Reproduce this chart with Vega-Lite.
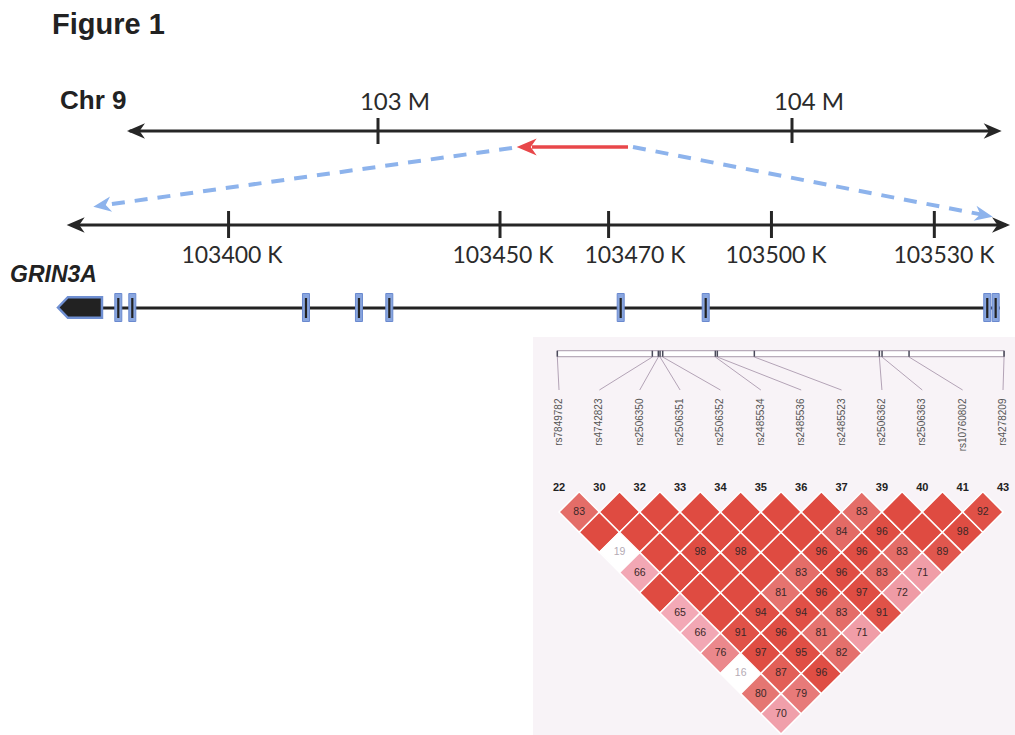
{
  "$schema": "https://vega.github.io/schema/vega-lite/v6.json",
  "width": 1015,
  "height": 735,
  "padding": 0,
  "autosize": "none",
  "background": "#ffffff",
  "config": {"view": {"stroke": null}},
  "datasets": {
    "snps": [
      {"i": 0, "snp": "rs7849782", "num": 22, "bar_i": -0.042},
      {"i": 1, "snp": "rs4742823", "num": 30, "bar_i": 2.312},
      {"i": 2, "snp": "rs2506350", "num": 32, "bar_i": 2.46},
      {"i": 3, "snp": "rs2506351", "num": 33, "bar_i": 2.503},
      {"i": 4, "snp": "rs2506352", "num": 34, "bar_i": 2.569},
      {"i": 5, "snp": "rs2485534", "num": 35, "bar_i": 3.873},
      {"i": 6, "snp": "rs2485536", "num": 36, "bar_i": 3.922},
      {"i": 7, "snp": "rs2485523", "num": 37, "bar_i": 4.839},
      {"i": 8, "snp": "rs2506362", "num": 39, "bar_i": 7.936},
      {"i": 9, "snp": "rs2506363", "num": 40, "bar_i": 8.003},
      {"i": 10, "snp": "rs10760802", "num": 41, "bar_i": 8.672},
      {"i": 11, "snp": "rs4278209", "num": 43, "bar_i": 11.026}
    ],
    "ld": [
      {"i": 0, "j": 1, "dp": 83}, {"i": 0, "j": 2, "dp": 100}, {"i": 0, "j": 3, "dp": 19}, {"i": 0, "j": 4, "dp": 66},
      {"i": 0, "j": 5, "dp": 100}, {"i": 0, "j": 6, "dp": 65}, {"i": 0, "j": 7, "dp": 66}, {"i": 0, "j": 8, "dp": 76},
      {"i": 0, "j": 9, "dp": 16}, {"i": 0, "j": 10, "dp": 80}, {"i": 0, "j": 11, "dp": 70},
      {"i": 1, "j": 2, "dp": 100}, {"i": 1, "j": 3, "dp": 100}, {"i": 1, "j": 4, "dp": 100}, {"i": 1, "j": 5, "dp": 100},
      {"i": 1, "j": 6, "dp": 100}, {"i": 1, "j": 7, "dp": 100}, {"i": 1, "j": 8, "dp": 91}, {"i": 1, "j": 9, "dp": 97},
      {"i": 1, "j": 10, "dp": 87}, {"i": 1, "j": 11, "dp": 79},
      {"i": 2, "j": 3, "dp": 100}, {"i": 2, "j": 4, "dp": 100}, {"i": 2, "j": 5, "dp": 98}, {"i": 2, "j": 6, "dp": 100},
      {"i": 2, "j": 7, "dp": 100}, {"i": 2, "j": 8, "dp": 94}, {"i": 2, "j": 9, "dp": 96}, {"i": 2, "j": 10, "dp": 95},
      {"i": 2, "j": 11, "dp": 96},
      {"i": 3, "j": 4, "dp": 100}, {"i": 3, "j": 5, "dp": 100}, {"i": 3, "j": 6, "dp": 98}, {"i": 3, "j": 7, "dp": 100},
      {"i": 3, "j": 8, "dp": 81}, {"i": 3, "j": 9, "dp": 94}, {"i": 3, "j": 10, "dp": 81}, {"i": 3, "j": 11, "dp": 82},
      {"i": 4, "j": 5, "dp": 100}, {"i": 4, "j": 6, "dp": 100}, {"i": 4, "j": 7, "dp": 100}, {"i": 4, "j": 8, "dp": 83},
      {"i": 4, "j": 9, "dp": 96}, {"i": 4, "j": 10, "dp": 83}, {"i": 4, "j": 11, "dp": 71},
      {"i": 5, "j": 6, "dp": 100}, {"i": 5, "j": 7, "dp": 100}, {"i": 5, "j": 8, "dp": 96}, {"i": 5, "j": 9, "dp": 96},
      {"i": 5, "j": 10, "dp": 97}, {"i": 5, "j": 11, "dp": 91},
      {"i": 6, "j": 7, "dp": 100}, {"i": 6, "j": 8, "dp": 84}, {"i": 6, "j": 9, "dp": 96}, {"i": 6, "j": 10, "dp": 83},
      {"i": 6, "j": 11, "dp": 72},
      {"i": 7, "j": 8, "dp": 83}, {"i": 7, "j": 9, "dp": 96}, {"i": 7, "j": 10, "dp": 83}, {"i": 7, "j": 11, "dp": 71},
      {"i": 8, "j": 9, "dp": 100}, {"i": 8, "j": 10, "dp": 100}, {"i": 8, "j": 11, "dp": 89},
      {"i": 9, "j": 10, "dp": 100}, {"i": 9, "j": 11, "dp": 98},
      {"i": 10, "j": 11, "dp": 92}
    ]
  },
  "resolve": {"scale": {"x": "independent", "y": "independent"}},
  "layer": [
    {
      "layer": [
        {
          "data": {"values": [
            {"mb": 103.3237, "y": 148, "mb2": 102.3411, "y2": 205.0},
            {"mb": 103.6159, "y": 147, "mb2": 104.4563, "y2": 214.4}
          ]},
          "mark": {"type": "rule", "color": "#8db3ec", "strokeWidth": 4, "strokeDash": [13, 10], "strokeCap": "butt"},
          "encoding": {
            "x": {"field": "mb", "type": "quantitative", "scale": {"domain": [102.08696, 104.53865], "nice": false, "zero": false}, "axis": null},
            "y": {"field": "y", "type": "quantitative", "scale": {"domain": [0, 735], "reverse": true, "nice": false, "zero": false}, "axis": null},
            "x2": {"field": "mb2"}, "y2": {"field": "y2"}
          }
        },
        {
          "data": {"values": [{"mb": 102.3123, "y": 206.7}]},
          "mark": {"type": "point", "shape": "M0,0 L-2,-0.85 L-1.4,0 L-2,0.85 Z", "size": 324, "angle": 172, "filled": true, "opacity": 1, "color": "#8db3ec"},
          "encoding": {
            "x": {"field": "mb", "type": "quantitative", "scale": {"domain": [102.08696, 104.53865], "nice": false, "zero": false}, "axis": null},
            "y": {"field": "y", "type": "quantitative", "scale": {"domain": [0, 735], "reverse": true, "nice": false, "zero": false}, "axis": null}
          }
        },
        {
          "data": {"values": [{"mb": 104.4848, "y": 216.7}]},
          "mark": {"type": "point", "shape": "M0,0 L-2,-0.85 L-1.4,0 L-2,0.85 Z", "size": 324, "angle": 11, "filled": true, "opacity": 1, "color": "#8db3ec"},
          "encoding": {
            "x": {"field": "mb", "type": "quantitative", "scale": {"domain": [102.08696, 104.53865], "nice": false, "zero": false}, "axis": null},
            "y": {"field": "y", "type": "quantitative", "scale": {"domain": [0, 735], "reverse": true, "nice": false, "zero": false}, "axis": null}
          }
        },
        {
          "data": {"values": [
            {"mb": 102.40, "mb2": 104.495, "y": 131, "y2": 131},
            {"mb": 103, "mb2": 103, "y": 118, "y2": 144},
            {"mb": 104, "mb2": 104, "y": 118, "y2": 143}
          ]},
          "mark": {"type": "rule", "color": "#262626", "strokeWidth": 3},
          "encoding": {
            "x": {"field": "mb", "type": "quantitative", "scale": {"domain": [102.08696, 104.53865], "nice": false, "zero": false}, "axis": null},
            "y": {"field": "y", "type": "quantitative", "scale": {"domain": [0, 735], "reverse": true, "nice": false, "zero": false}, "axis": null},
            "x2": {"field": "mb2"}, "y2": {"field": "y2"}
          }
        },
        {
          "data": {"values": [{"mb": 102.3937, "y": 131}]},
          "mark": {"type": "point", "shape": "M0,0 L-2,-0.85 L-1.4,0 L-2,0.85 Z", "size": 324, "angle": 180, "filled": true, "opacity": 1, "color": "#262626"},
          "encoding": {
            "x": {"field": "mb", "type": "quantitative", "scale": {"domain": [102.08696, 104.53865], "nice": false, "zero": false}, "axis": null},
            "y": {"field": "y", "type": "quantitative", "scale": {"domain": [0, 735], "reverse": true, "nice": false, "zero": false}, "axis": null}
          }
        },
        {
          "data": {"values": [{"mb": 104.5065, "y": 131}]},
          "mark": {"type": "point", "shape": "M0,0 L-2,-0.85 L-1.4,0 L-2,0.85 Z", "size": 324, "angle": 0, "filled": true, "opacity": 1, "color": "#262626"},
          "encoding": {
            "x": {"field": "mb", "type": "quantitative", "scale": {"domain": [102.08696, 104.53865], "nice": false, "zero": false}, "axis": null},
            "y": {"field": "y", "type": "quantitative", "scale": {"domain": [0, 735], "reverse": true, "nice": false, "zero": false}, "axis": null}
          }
        },
        {
          "data": {"values": [{"mb": 103.6039, "mb2": 103.372, "y": 147}]},
          "mark": {"type": "rule", "color": "#e8474a", "strokeWidth": 3.5},
          "encoding": {
            "x": {"field": "mb", "type": "quantitative", "scale": {"domain": [102.08696, 104.53865], "nice": false, "zero": false}, "axis": null},
            "y": {"field": "y", "type": "quantitative", "scale": {"domain": [0, 735], "reverse": true, "nice": false, "zero": false}, "axis": null},
            "x2": {"field": "mb2"}
          }
        },
        {
          "data": {"values": [{"mb": 103.335, "y": 147}]},
          "mark": {"type": "point", "shape": "M0,0 L-2,-0.85 L-1.4,0 L-2,0.85 Z", "size": 400, "angle": 180, "filled": true, "opacity": 1, "color": "#e8474a"},
          "encoding": {
            "x": {"field": "mb", "type": "quantitative", "scale": {"domain": [102.08696, 104.53865], "nice": false, "zero": false}, "axis": null},
            "y": {"field": "y", "type": "quantitative", "scale": {"domain": [0, 735], "reverse": true, "nice": false, "zero": false}, "axis": null}
          }
        },
        {
          "data": {"values": [
            {"mb": 103, "y": 110, "label": "103 M"},
            {"mb": 104, "y": 110, "label": "104 M"}
          ]},
          "mark": {"type": "text", "font": "Lato", "fontSize": 24, "color": "#2b2b2b", "align": "center", "baseline": "alphabetic", "dx": 17},
          "encoding": {
            "x": {"field": "mb", "type": "quantitative", "scale": {"domain": [102.08696, 104.53865], "nice": false, "zero": false}, "axis": null},
            "y": {"field": "y", "type": "quantitative", "scale": {"domain": [0, 735], "reverse": true, "nice": false, "zero": false}, "axis": null},
            "text": {"field": "label"}
          }
        },
        {
          "data": {"values": [{"mb": 102.2319, "y": 109, "label": "Chr 9"}]},
          "mark": {"type": "text", "font": "Liberation Sans", "fontWeight": "bold", "fontSize": 26, "color": "#222222", "align": "left", "baseline": "alphabetic"},
          "encoding": {
            "x": {"field": "mb", "type": "quantitative", "scale": {"domain": [102.08696, 104.53865], "nice": false, "zero": false}, "axis": null},
            "y": {"field": "y", "type": "quantitative", "scale": {"domain": [0, 735], "reverse": true, "nice": false, "zero": false}, "axis": null},
            "text": {"field": "label"}
          }
        },
        {
          "data": {"values": [{"mb": 102.2126, "y": 34, "label": "Figure 1"}]},
          "mark": {"type": "text", "font": "Liberation Sans", "fontWeight": "bold", "fontSize": 29, "color": "#222222", "align": "left", "baseline": "alphabetic"},
          "encoding": {
            "x": {"field": "mb", "type": "quantitative", "scale": {"domain": [102.08696, 104.53865], "nice": false, "zero": false}, "axis": null},
            "y": {"field": "y", "type": "quantitative", "scale": {"domain": [0, 735], "reverse": true, "nice": false, "zero": false}, "axis": null},
            "text": {"field": "label"}
          }
        }
      ]
    },
    {
      "layer": [
        {
          "data": {"values": [
            {"kb": 103371, "kb2": 103543.2, "y": 225, "y2": 225},
            {"kb": 103400, "kb2": 103400, "y": 211, "y2": 238},
            {"kb": 103450, "kb2": 103450, "y": 211, "y2": 238},
            {"kb": 103470, "kb2": 103470, "y": 211, "y2": 238},
            {"kb": 103500, "kb2": 103500, "y": 211, "y2": 238},
            {"kb": 103530, "kb2": 103530, "y": 211, "y2": 238}
          ]},
          "mark": {"type": "rule", "color": "#262626", "strokeWidth": 3},
          "encoding": {
            "x": {"field": "kb", "type": "quantitative", "scale": {"domain": [103357.9, 103544.86], "nice": false, "zero": false}, "axis": null},
            "y": {"field": "y", "type": "quantitative", "scale": {"domain": [0, 735], "reverse": true, "nice": false, "zero": false}, "axis": null},
            "x2": {"field": "kb2"}, "y2": {"field": "y2"}
          }
        },
        {
          "data": {"values": [{"kb": 103370.18, "y": 225}]},
          "mark": {"type": "point", "shape": "M0,0 L-2,-0.85 L-1.4,0 L-2,0.85 Z", "size": 324, "angle": 180, "filled": true, "opacity": 1, "color": "#262626"},
          "encoding": {
            "x": {"field": "kb", "type": "quantitative", "scale": {"domain": [103357.9, 103544.86], "nice": false, "zero": false}, "axis": null},
            "y": {"field": "y", "type": "quantitative", "scale": {"domain": [0, 735], "reverse": true, "nice": false, "zero": false}, "axis": null}
          }
        },
        {
          "data": {"values": [{"kb": 103543.94, "y": 225}]},
          "mark": {"type": "point", "shape": "M0,0 L-2,-0.85 L-1.4,0 L-2,0.85 Z", "size": 324, "angle": 0, "filled": true, "opacity": 1, "color": "#262626"},
          "encoding": {
            "x": {"field": "kb", "type": "quantitative", "scale": {"domain": [103357.9, 103544.86], "nice": false, "zero": false}, "axis": null},
            "y": {"field": "y", "type": "quantitative", "scale": {"domain": [0, 735], "reverse": true, "nice": false, "zero": false}, "axis": null}
          }
        },
        {
          "data": {"values": [
            {"kb": 103400, "label_kb": 103400.63, "label": "103400 K"},
            {"kb": 103450, "label_kb": 103450.55, "label": "103450 K"},
            {"kb": 103470, "label_kb": 103474.86, "label": "103470 K"},
            {"kb": 103500, "label_kb": 103500.83, "label": "103500 K"},
            {"kb": 103530, "label_kb": 103531.78, "label": "103530 K"}
          ]},
          "mark": {"type": "text", "font": "Lato", "fontSize": 23, "color": "#2b2b2b", "align": "center", "baseline": "alphabetic"},
          "encoding": {
            "x": {"field": "label_kb", "type": "quantitative", "scale": {"domain": [103357.9, 103544.86], "nice": false, "zero": false}, "axis": null},
            "y": {"datum": 263, "type": "quantitative", "scale": {"domain": [0, 735], "reverse": true, "nice": false, "zero": false}, "axis": null},
            "text": {"field": "label"}
          }
        },
        {
          "data": {"values": [{"kb": 103359.74, "y": 282, "label": "GRIN3A"}]},
          "mark": {"type": "text", "font": "Liberation Sans", "fontWeight": "bold", "fontStyle": "italic", "fontSize": 23, "color": "#222222", "align": "left", "baseline": "alphabetic"},
          "encoding": {
            "x": {"field": "kb", "type": "quantitative", "scale": {"domain": [103357.9, 103544.86], "nice": false, "zero": false}, "axis": null},
            "y": {"field": "y", "type": "quantitative", "scale": {"domain": [0, 735], "reverse": true, "nice": false, "zero": false}, "axis": null},
            "text": {"field": "label"}
          }
        },
        {
          "data": {"values": [{"kb": 103375, "kb2": 103542.09, "y": 308}]},
          "mark": {"type": "rule", "color": "#222222", "strokeWidth": 3},
          "encoding": {
            "x": {"field": "kb", "type": "quantitative", "scale": {"domain": [103357.9, 103544.86], "nice": false, "zero": false}, "axis": null},
            "y": {"field": "y", "type": "quantitative", "scale": {"domain": [0, 735], "reverse": true, "nice": false, "zero": false}, "axis": null},
            "x2": {"field": "kb2"}
          }
        },
        {
          "data": {"values": [{"kb": 103368.58, "y": 307.5}]},
          "mark": {"type": "point", "shape": "M0,0 L0.45,-0.47 L2,-0.47 L2,0.47 L0.45,0.47 Z", "size": 1936, "filled": true, "opacity": 1, "fill": "#222222", "stroke": "#6f8fd2", "strokeWidth": 2.5},
          "encoding": {
            "x": {"field": "kb", "type": "quantitative", "scale": {"domain": [103357.9, 103544.86], "nice": false, "zero": false}, "axis": null},
            "y": {"field": "y", "type": "quantitative", "scale": {"domain": [0, 735], "reverse": true, "nice": false, "zero": false}, "axis": null}
          }
        },
        {
          "data": {"values": [
            {"kb": 103379.69}, {"kb": 103382.27}, {"kb": 103414.26}, {"kb": 103424.02}, {"kb": 103429.61},
            {"kb": 103472.23}, {"kb": 103487.89}, {"kb": 103539.75}, {"kb": 103541.3}
          ]},
          "mark": {"type": "point", "shape": "M-0.25,-1 L0.25,-1 L0.25,1 L-0.25,1 Z", "size": 784, "filled": true, "opacity": 1, "fill": "#89a6df", "stroke": "#6a89cf", "strokeWidth": 1},
          "encoding": {
            "x": {"field": "kb", "type": "quantitative", "scale": {"domain": [103357.9, 103544.86], "nice": false, "zero": false}, "axis": null},
            "y": {"datum": 307.5, "type": "quantitative", "scale": {"domain": [0, 735], "reverse": true, "nice": false, "zero": false}, "axis": null}
          }
        },
        {
          "data": {"values": [
            {"kb": 103379.69}, {"kb": 103382.27}, {"kb": 103414.26}, {"kb": 103424.02}, {"kb": 103429.61},
            {"kb": 103472.23}, {"kb": 103487.89}, {"kb": 103539.75}, {"kb": 103541.3}
          ]},
          "mark": {"type": "rule", "color": "#222222", "strokeWidth": 2.2},
          "encoding": {
            "x": {"field": "kb", "type": "quantitative", "scale": {"domain": [103357.9, 103544.86], "nice": false, "zero": false}, "axis": null},
            "y": {"datum": 298, "type": "quantitative", "scale": {"domain": [0, 735], "reverse": true, "nice": false, "zero": false}, "axis": null},
            "y2": {"datum": 318}
          }
        }
      ]
    },
    {
      "layer": [
        {
          "data": {"values": [{}]},
          "mark": {"type": "rect", "color": "#f8f3f7"},
          "encoding": {
            "x": {"datum": -0.644, "type": "quantitative", "scale": {"domain": [-13.85, 11.297], "nice": false, "zero": false}, "axis": null},
            "x2": {"datum": 11.297},
            "y": {"datum": -7.672, "type": "quantitative", "scale": {"domain": [-24.372, 12.05], "reverse": true, "nice": false, "zero": false}, "axis": null},
            "y2": {"datum": 12.05}
          }
        },
        {
          "data": {"values": [{}]},
          "mark": {"type": "rect", "fill": "#ffffff", "stroke": "#a898aa", "strokeWidth": 1},
          "encoding": {
            "x": {"datum": -0.042, "type": "quantitative", "scale": {"domain": [-13.85, 11.297], "nice": false, "zero": false}, "axis": null},
            "x2": {"datum": 11.026},
            "y": {"datum": -6.993, "type": "quantitative", "scale": {"domain": [-24.372, 12.05], "reverse": true, "nice": false, "zero": false}, "axis": null},
            "y2": {"datum": -6.696}
          }
        },
        {
          "data": {"name": "snps"},
          "mark": {"type": "rule", "color": "#b3a3b6", "strokeWidth": 1},
          "encoding": {
            "x": {"field": "bar_i", "type": "quantitative", "scale": {"domain": [-13.85, 11.297], "nice": false, "zero": false}, "axis": null},
            "x2": {"field": "i"},
            "y": {"datum": -6.681, "type": "quantitative", "scale": {"domain": [-24.372, 12.05], "reverse": true, "nice": false, "zero": false}, "axis": null},
            "y2": {"datum": -5.046}
          }
        },
        {
          "data": {"name": "snps"},
          "mark": {"type": "rule", "color": "#4a4a5a", "strokeWidth": 1.5},
          "encoding": {
            "x": {"field": "bar_i", "type": "quantitative", "scale": {"domain": [-13.85, 11.297], "nice": false, "zero": false}, "axis": null},
            "y": {"datum": -6.993, "type": "quantitative", "scale": {"domain": [-24.372, 12.05], "reverse": true, "nice": false, "zero": false}, "axis": null},
            "y2": {"datum": -6.696}
          }
        },
        {
          "data": {"name": "snps"},
          "mark": {"type": "text", "font": "Liberation Sans", "fontSize": 10, "color": "#555555", "angle": 270, "align": "right", "baseline": "middle"},
          "encoding": {
            "x": {"field": "i", "type": "quantitative", "scale": {"domain": [-13.85, 11.297], "nice": false, "zero": false}, "axis": null},
            "y": {"datum": -4.624, "type": "quantitative", "scale": {"domain": [-24.372, 12.05], "reverse": true, "nice": false, "zero": false}, "axis": null},
            "text": {"field": "snp"}
          }
        },
        {
          "data": {"name": "snps"},
          "mark": {"type": "text", "font": "Liberation Sans", "fontWeight": "bold", "fontSize": 11, "color": "#222222", "align": "center", "baseline": "middle"},
          "encoding": {
            "x": {"field": "i", "type": "quantitative", "scale": {"domain": [-13.85, 11.297], "nice": false, "zero": false}, "axis": null},
            "y": {"datum": -0.189, "type": "quantitative", "scale": {"domain": [-24.372, 12.05], "reverse": true, "nice": false, "zero": false}, "axis": null},
            "text": {"field": "num"}
          }
        },
        {
          "data": {"name": "ld"},
          "transform": [
            {"calculate": "(datum.i + datum.j) / 2", "as": "mid"},
            {"calculate": "datum.j - datum.i", "as": "gap"}
          ],
          "mark": {"type": "point", "shape": "diamond", "size": 1629, "filled": true, "opacity": 1, "stroke": "#ffffff", "strokeWidth": 1.5},
          "encoding": {
            "x": {"field": "mid", "type": "quantitative", "scale": {"domain": [-13.85, 11.297], "nice": false, "zero": false}, "axis": null},
            "y": {"field": "gap", "type": "quantitative", "scale": {"domain": [-24.372, 12.05], "reverse": true, "nice": false, "zero": false}, "axis": null},
            "color": {
              "field": "dp", "type": "quantitative", "legend": null,
              "scale": {
                "domain": [16, 30, 65, 72, 80, 84, 90, 100],
                "range": ["#ffffff", "#ffffff", "#f3a9b6", "#ef9ba5", "#e57672", "#e36a65", "#e05349", "#df4b41"]
              }
            }
          }
        },
        {
          "data": {"name": "ld"},
          "transform": [
            {"filter": "datum.dp < 100"},
            {"calculate": "(datum.i + datum.j) / 2", "as": "mid"},
            {"calculate": "datum.j - datum.i", "as": "gap"}
          ],
          "mark": {"type": "text", "font": "Liberation Sans", "fontSize": 10.5, "align": "center", "baseline": "middle"},
          "encoding": {
            "x": {"field": "mid", "type": "quantitative", "scale": {"domain": [-13.85, 11.297], "nice": false, "zero": false}, "axis": null},
            "y": {"field": "gap", "type": "quantitative", "scale": {"domain": [-24.372, 12.05], "reverse": true, "nice": false, "zero": false}, "axis": null},
            "text": {"field": "dp"},
            "color": {"condition": {"test": "datum.dp < 30", "value": "#b4aab4"}, "value": "#3a2828"}
          }
        }
      ]
    }
  ]
}
